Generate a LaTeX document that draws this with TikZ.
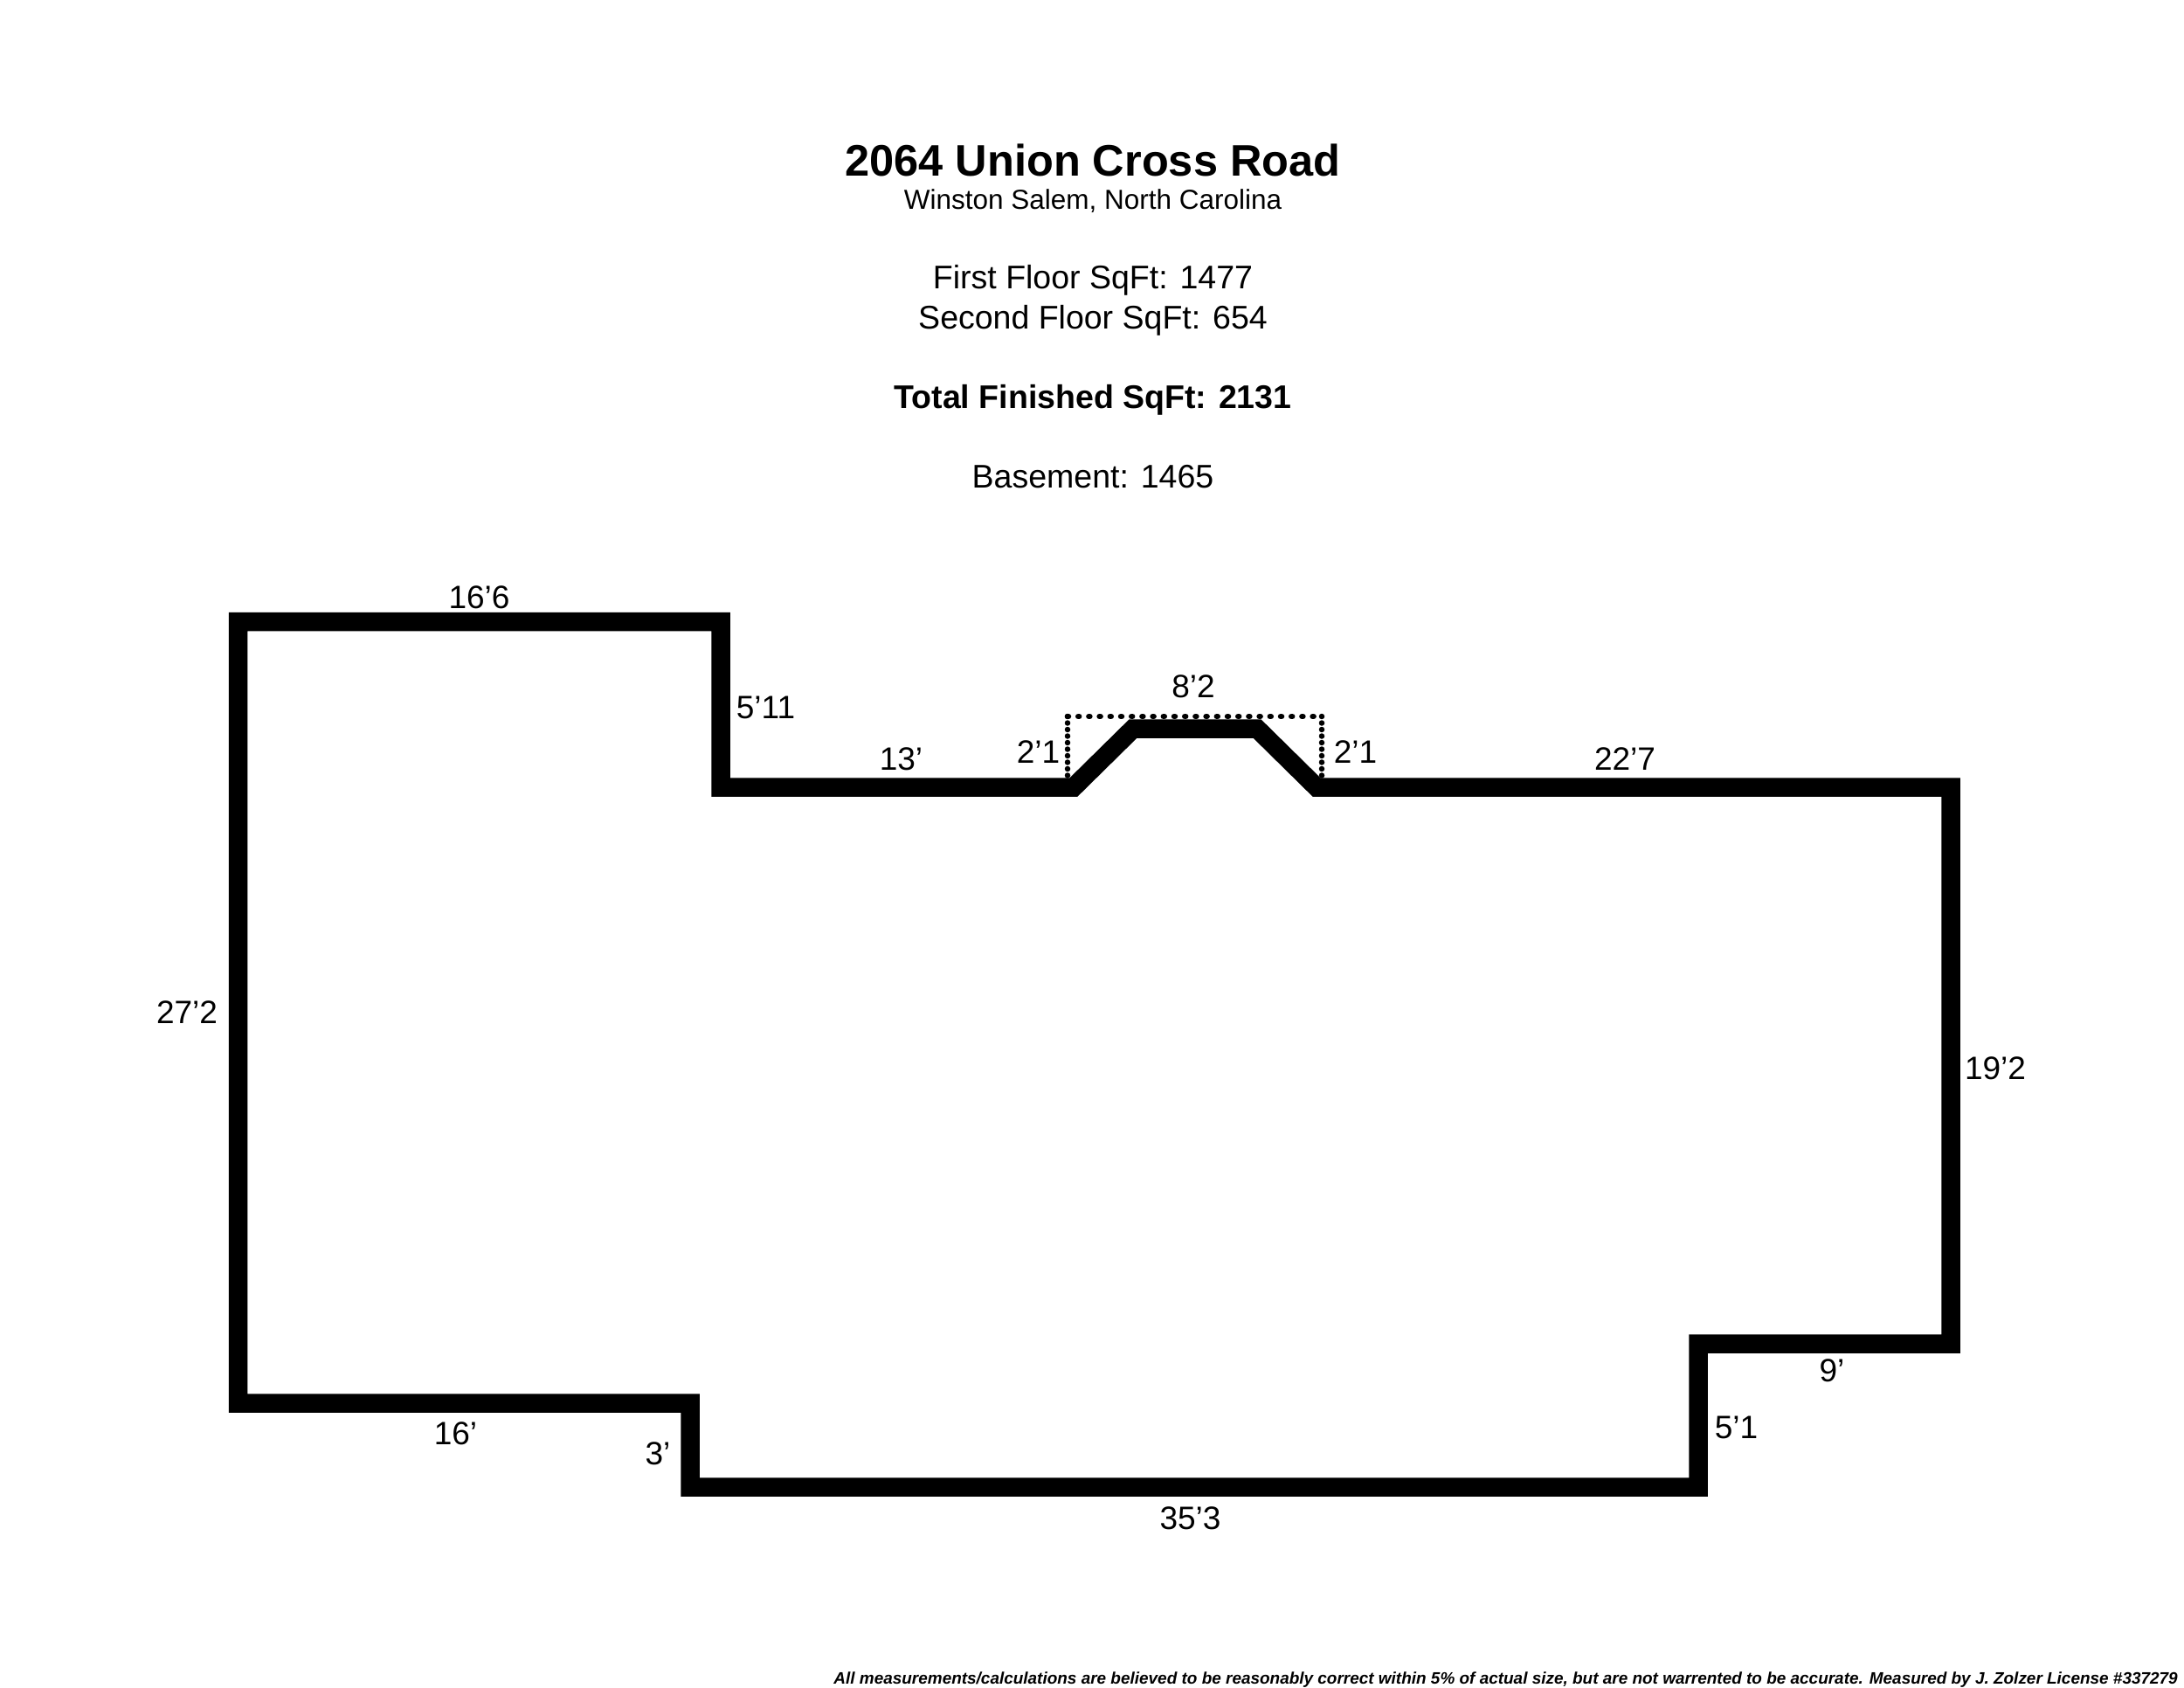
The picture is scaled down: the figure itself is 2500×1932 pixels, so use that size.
\documentclass[tikz,border=0pt]{standalone}
\usepackage{fontspec}
\setmainfont{Liberation Sans}
\tikzset{
  wall/.style={line width=21.5pt,line join=miter,miter limit=10},
  dotsh/.style={line width=6.5pt,line cap=round,dash pattern=on 1pt off 11.2pt},
  dotsv/.style={line width=6.5pt,line cap=round,dash pattern=on 0pt off 7.5pt},
  dim/.style={inner sep=0pt,font=\fontsize{37}{37}\selectfont},
  info/.style={inner sep=0pt,font=\fontsize{37.5}{37.5}\selectfont},
}
\begin{document}
\begin{tikzpicture}[x=1pt,y=-1pt]
\useasboundingbox (0,0) rectangle (2500,1932);
\fill[white] (0,0) rectangle (2500,1932);
\coordinate (a) at (272.5,711.5);
\coordinate (b) at (825,711.5);
\coordinate (c) at (825,901);
\coordinate (d) at (1229,901);
\coordinate (e) at (1297,834);
\coordinate (f) at (1439,834);
\coordinate (g) at (1507,901);
\coordinate (h) at (2233,901);
\coordinate (i) at (2233,1538);
\coordinate (j) at (1944,1538);
\coordinate (k) at (1944,1702);
\coordinate (l) at (790,1702);
\coordinate (m) at (790,1606);
\coordinate (n) at (272.5,1606);
\draw[wall] (a)--(b)--(c)--(d)--(e)--(f)--(g)--(h)--(i)--(j)--(k)--(l)--(m)--(n)--cycle;
\coordinate (p) at (1222,820);
\coordinate (q) at (1513,820);
\coordinate (r) at (1222,890);
\coordinate (s) at (1513,890);
\draw[dotsh] (p)--(q);
\draw[dotsv] (p)--(r);
\draw[dotsv] (q)--(s);
\node[inner sep=0pt,font=\bfseries\fontsize{50.5}{50.5}\selectfont] (title) at (1251,183.5) {2064 Union Cross Road};
\node[inner sep=0pt,font=\fontsize{31.5}{31.5}\selectfont] (sub) at (1251,230) {Winston Salem, North Carolina};
\node[info] (first) at (1251,321) {First Floor SqFt: 1477};
\node[info] (second) at (1251,367) {Second Floor SqFt: 654};
\node[info,font=\bfseries\fontsize{37.5}{37.5}\selectfont] (total) at (1251,458) {Total Finished SqFt: 2131};
\node[info] (base) at (1251,546) {Basement: 1465};
\node[dim] (l1) at (548.5,683.5) {16’6};
\node[dim] (l2) at (876.5,809.5) {5’11};
\node[dim] (l3) at (1031.5,868.5) {13’};
\node[dim] (l4) at (1188.5,860.5) {2’1};
\node[dim] (l5) at (1366,785.5) {8’2};
\node[dim] (l6) at (1551.5,860.5) {2’1};
\node[dim] (l7) at (1860,868.5) {22’7};
\node[dim] (l8) at (214,1158.5) {27’2};
\node[dim] (l9) at (2284,1222.5) {19’2};
\node[dim] (l10) at (2097,1568.5) {9’};
\node[dim] (l11) at (1987.5,1633.5) {5’1};
\node[dim] (l12) at (521.5,1640.5) {16’};
\node[dim] (l13) at (753,1664) {3’};
\node[dim] (l14) at (1362.5,1737.5) {35’3};
\node[anchor=east,inner sep=0pt,font=\bfseries\itshape\fontsize{18.95}{19}\selectfont] (foot) at (2493,1922.5) {All measurements/calculations are believed to be reasonably correct within 5\% of actual size, but are not warrented to be accurate. Measured by J. Zolzer License \#337279};
\end{tikzpicture}
\end{document}
